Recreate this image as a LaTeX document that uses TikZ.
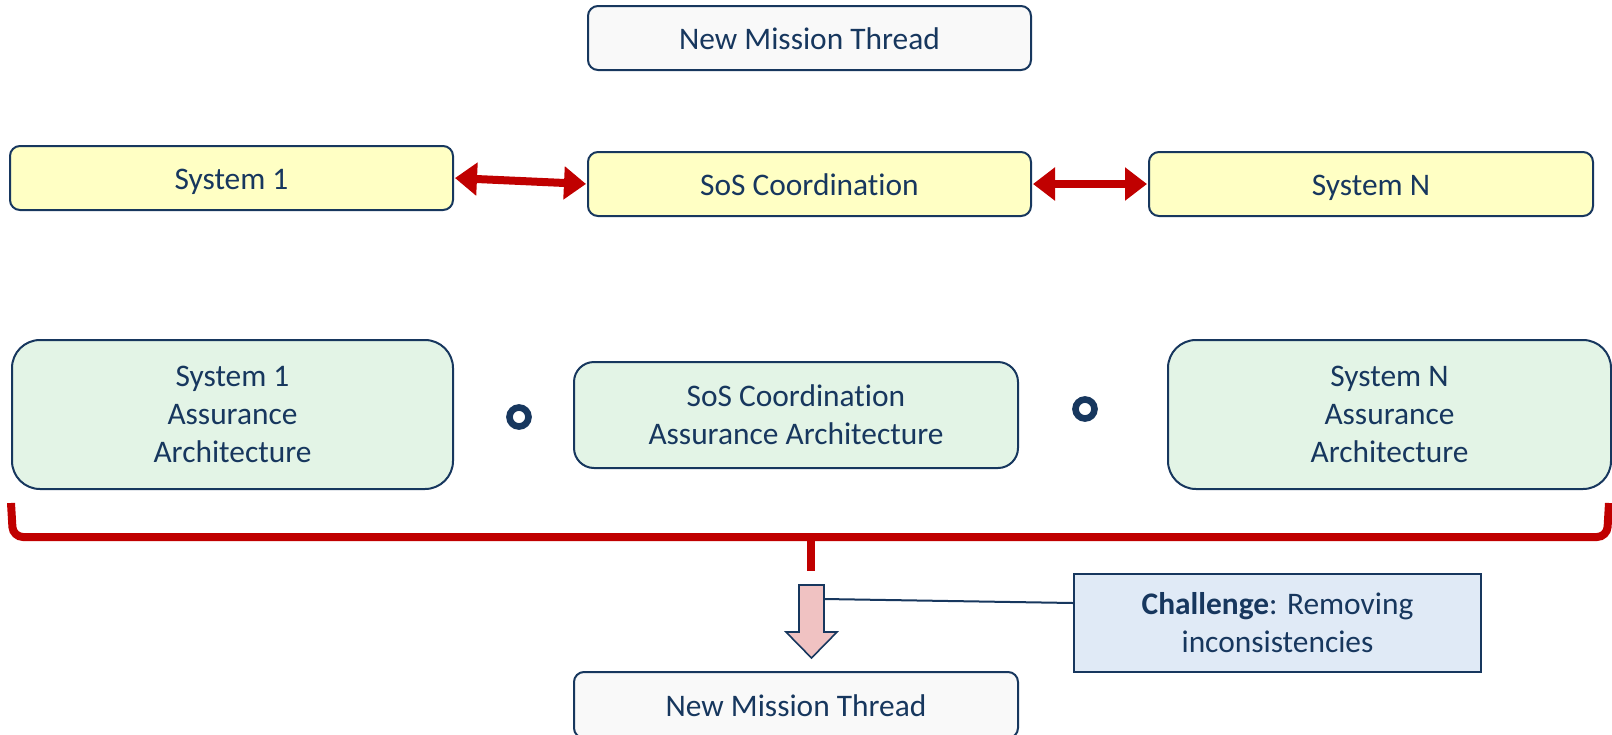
\documentclass[tikz,border=0pt]{standalone}
\usepackage{fontspec}
\setmainfont{Carlito}[Ligatures=NoCommon]
\usetikzlibrary{arrows.meta}
\definecolor{navy}{HTML}{17375E}
\definecolor{boxred}{HTML}{C00000}
\definecolor{yellowfill}{HTML}{FFFFC4}
\definecolor{greenfill}{HTML}{E3F4E6}
\definecolor{greyfill}{HTML}{F9F9F9}
\definecolor{bluefill}{HTML}{E0EAF6}
\definecolor{pinkfill}{HTML}{F0C2C2}
\begin{document}
\begin{tikzpicture}[x=0.5pt,y=-0.5pt,
  every node/.style={text=navy, font=\fontsize{15.7}{19}\selectfont, align=center},
  basebox/.style={draw=navy, line width=1pt, inner sep=0pt},
  oneline/.style={text height=11pt, text depth=0pt},
  thread/.style={basebox, oneline, fill=greyfill, rounded corners=5pt, minimum width=221.5pt, minimum height=32pt},
  sysbox/.style={basebox, oneline, fill=yellowfill, rounded corners=5pt, minimum width=221.5pt, minimum height=32pt},
  archbox/.style={basebox, fill=greenfill, rounded corners=14pt, minimum width=220.5pt, minimum height=74.5pt},
  notebox/.style={basebox, fill=bluefill, minimum width=203.5pt, minimum height=49pt},
  ring/.style={circle, draw=navy, line width=3.3pt, minimum size=9.5pt, inner sep=0pt},
  linkarrow/.style={draw=boxred, line width=4pt, {Triangle[length=11pt,width=16pt]}-{Triangle[length=11pt,width=16pt]}, shorten <=0.5pt, shorten >=0.5pt},
  bracket/.style={draw=boxred, line width=4pt},
]
\useasboundingbox (0,0) rectangle (1612,734);

% top row
\node[thread] (top) at (809.5,38) {New Mission Thread};

% systems
\node[sysbox] (sys1) at (231.5,178) {System 1};
\node[sysbox] (sos)  at (809.5,184) {SoS Coordination};
\node[sysbox, minimum width=222pt] (sysN) at (1371,184) {System N};
\draw[linkarrow] (sys1.east) -- (sos.west);
\draw[linkarrow] (sos.east) -- (sysN.west);

% assurance architectures
\node[archbox] (aa1) at (232.5,414.5) {System 1\\Assurance\\Architecture};
\node[archbox, minimum width=222pt, minimum height=53pt, rounded corners=10pt] (aaS) at (796,415) {SoS Coordination\\Assurance Architecture};
\node[archbox, minimum width=221.5pt] (aaN) at (1389.5,414.5) {System N\\Assurance\\Architecture};
\node[ring] (op1) at (519,417) {};
\node[ring] (op2) at (1085,409) {};

% grouping bracket
\draw[bracket, rounded corners=5pt] (11,503) -- (13,537) -- (1607,537) -- (1609,503);
\draw[bracket, line cap=butt] (811,533) -- (811,571);

% composition arrow
\coordinate (ptr) at (824,599);
\draw[navy, line width=0.8pt, fill=pinkfill]
  (799,585) -- (824,585) -- (824,632) -- (837,632) -- (811.5,658)
  -- (786,632) -- (799,632) -- cycle;

% challenge note
\node[notebox] (challenge) at (1277.5,623) {\textbf{Challenge}: Removing\\inconsistencies};
\draw[navy, line width=1pt] (ptr) -- (challenge.west |- 0,603);

% result
\node[thread, minimum width=222pt, minimum height=33pt] (bottom) at (796,705) {New Mission Thread};
\end{tikzpicture}
\end{document}
